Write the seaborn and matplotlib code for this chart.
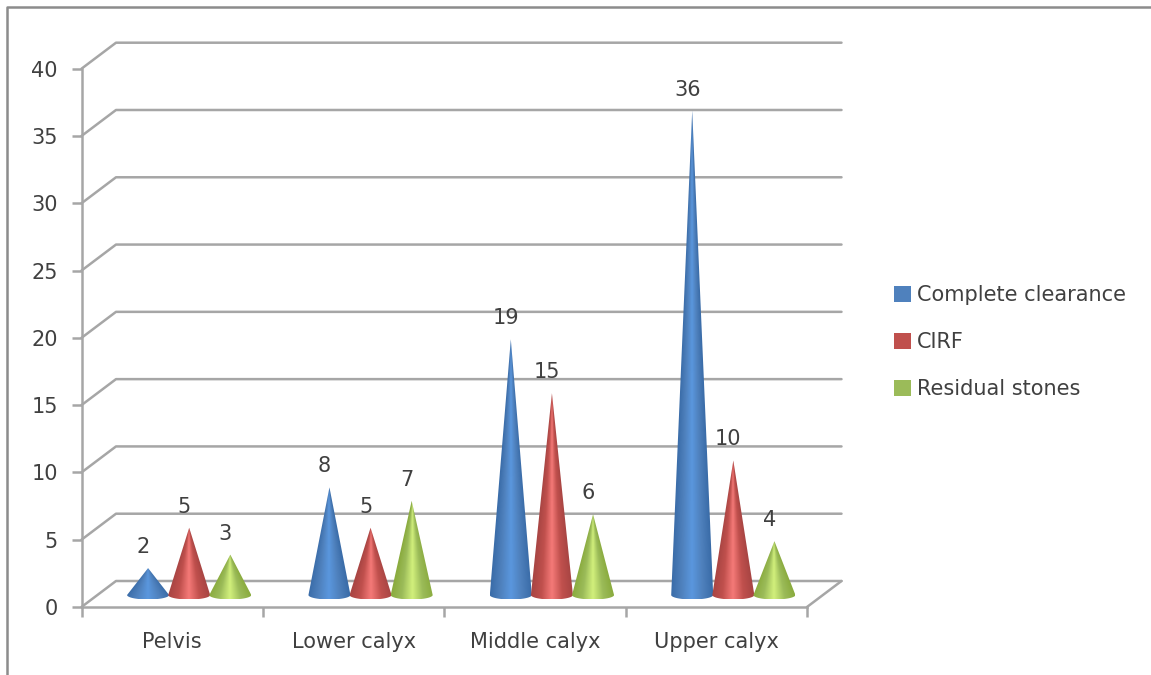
import numpy as np
import pandas as pd
import seaborn as sns
import matplotlib
matplotlib.use("Agg")
import matplotlib.pyplot as plt
from matplotlib.colors import LinearSegmentedColormap
from matplotlib.lines import Line2D
from matplotlib.patches import Patch, Polygon

categories = ["Pelvis", "Lower calyx", "Middle calyx", "Upper calyx"]
series_names = ["Complete clearance", "CIRF", "Residual stones"]
complete_clearance = [2, 8, 19, 36]
cirf = [5, 5, 15, 10]
residual_stones = [3, 7, 6, 4]
y_ticks = [0, 5, 10, 15, 20, 25, 30, 35, 40]
legend_colors = ["#4F81BD", "#C0504D", "#9BBB59"]
edge_colors = ["#3A6CA8", "#A84543", "#8AAB3E"]
mid_colors = ["#5A97DE", "#F57A78", "#D2F07C"]

W, H = 1151, 675
GRAY = "#A6A6A6"
TEXT = "#404040"
FS = 15

df = pd.DataFrame({
    "category": categories * 3,
    "series": [s for s in series_names for _ in categories],
    "value": complete_clearance + cirf + residual_stones,
})

sns.set_theme(style="white")
plt.rcParams["font.family"] = ["DejaVu Sans"]
fig = plt.figure(figsize=(W / 100, H / 100), dpi=100, facecolor="white")
x0, x1, y_front0, y_front40 = 81.5, 807, 607, 68.7
ax = fig.add_axes([x0 / W, (H - y_front0) / H, (x1 - x0) / W, (y_front0 - y_front40) / H])
sns.barplot(data=df, x="category", y="value", hue="series", order=categories,
            hue_order=series_names, width=0.68, gap=0, legend=False, ax=ax, errorbar=None)
ax.set_xlim(-0.5, 3.5)
ax.set_ylim(0, 40)
ax.set_xlabel("")
ax.set_ylabel("")
ax.patch.set_alpha(0)

px_x = (x1 - x0) / 4            # pixels per category
px_y = (y_front0 - y_front40) / 40  # pixels per value unit
depth_x = 34.5 / px_x
depth_y = 26 / px_y
cone_dx = 17 / px_x
cone_base = 12 / px_y
cone_hw = 21 / px_x
ell_h = 4.5 / px_y

# walls and floor
line_kw = dict(color=GRAY, lw=1.8, clip_on=False, zorder=1, solid_capstyle="round")
for v in y_ticks:
    ax.plot([-0.5, -0.5 + depth_x, 3.5 + depth_x], [v, v + depth_y, v + depth_y], **line_kw)
ax.plot([3.5, 3.5 + depth_x], [0, depth_y], **line_kw)

# cones, placed from the positions of the bars seaborn laid out
for s, container in enumerate(ax.containers):
    cmap = LinearSegmentedColormap.from_list(
        "c", [edge_colors[s], legend_colors[s], mid_colors[s], legend_colors[s], edge_colors[s]])
    for bar in container:
        xc = bar.get_x() + bar.get_width() / 2 + cone_dx
        val = bar.get_height()
        base = cone_base
        tip = base + val
        theta = np.linspace(np.pi, 2 * np.pi, 40)
        ex = xc + cone_hw * np.cos(theta)
        ey = base + ell_h * np.sin(theta)
        poly = Polygon(np.r_[[[xc, tip]], np.c_[ex, ey]], closed=True, fc="none", ec="none")
        ax.add_patch(poly)
        gx = np.linspace(-cone_hw, cone_hw, 120)
        gy = np.linspace(base - ell_h, tip, 200)
        X, Y = np.meshgrid(gx, gy)
        frac = np.clip((tip - Y) / val, 0.02, None)
        u = np.clip(X / (cone_hw * frac), -1, 1)
        img = ax.imshow(u, extent=[xc - cone_hw, xc + cone_hw, base - ell_h, tip], origin="lower",
                        aspect="auto", cmap=cmap, vmin=-1, vmax=1, interpolation="bilinear",
                        zorder=3 + s * 0.1)
        img.set_clip_path(poly)
        ax.annotate(f"{val:g}", (xc, tip), xytext=(-5, 21), textcoords="offset pixels",
                    ha="center", va="center", fontsize=FS, color=TEXT, zorder=6, annotation_clip=False)
    for bar in container:
        bar.set_visible(False)
ax.set_xlim(-0.5, 3.5)
ax.set_ylim(0, 40)

# axes
sns.despine(ax=ax, top=True, right=True)
for sp in ("left", "bottom"):
    ax.spines[sp].set_color(GRAY)
    ax.spines[sp].set_linewidth(1.8)
ax.set_yticks(y_ticks)
ax.set_xticks(range(len(categories)))
ax.set_xticklabels(categories)
ax.set_xticks(np.arange(-0.5, 4, 1), minor=True)
ax.tick_params(axis="y", which="major", left=True, length=7, width=1.8, color=GRAY, pad=10,
               labelsize=FS, labelcolor=TEXT)
ax.tick_params(axis="x", which="major", bottom=False, length=0, pad=18, labelsize=FS, labelcolor=TEXT)
ax.tick_params(axis="x", which="minor", bottom=True, length=7, width=1.8, color=GRAY)

# legend
handles = [Patch(facecolor=c, edgecolor="none", label=n) for c, n in zip(legend_colors, series_names)]
ax.legend(handles=handles, loc="center left", bbox_to_anchor=(894 / W, (H - 342) / H),
          bbox_transform=fig.transFigure, frameon=False, fontsize=FS, labelcolor=TEXT,
          handlelength=0.8, handleheight=0.8, handletextpad=0.3, labelspacing=1.3,
          borderpad=0, borderaxespad=0)

# chart frame
fig.add_artist(Line2D([6.5 / W, 6.5 / W, 1], [0, (H - 7) / H, (H - 7) / H], color="#8C8C8C", lw=1.8))

fig.savefig("out.png", dpi=100, facecolor="white")
